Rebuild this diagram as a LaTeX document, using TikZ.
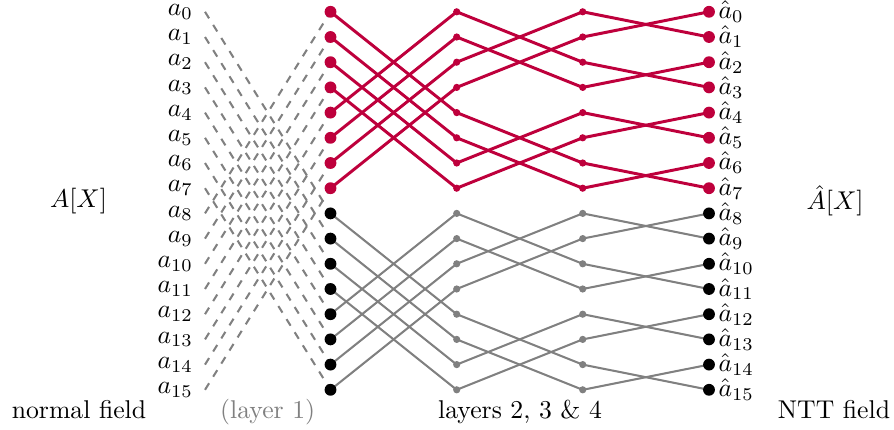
\documentclass[tikz,border=0pt]{standalone}
\usepackage{xcolor}
\definecolor{crim}{RGB}{190,0,60}
\pgfdeclarelayer{wires}
\pgfsetlayers{wires,main}
\tikzset{
  bigdot/.style={circle,inner sep=0pt,minimum size=4.6pt,fill=#1},
  smalldot/.style={circle,inner sep=0pt,minimum size=2.8pt,fill=#1},
  hotwire/.style={draw=crim,line width=1.15pt},
  coldwire/.style={draw=gray,line width=0.8pt},
  shuffle/.style={draw=gray,line width=0.8pt,dashed},
  lbl/.style={inner sep=1pt},
}
\begin{document}
\begin{tikzpicture}[x=0.389pt,y=-0.389pt]
  \useasboundingbox (0,0) rectangle (894,429);

  % inputs, stage outputs and results, one row per coefficient
  \foreach \i in {0,...,15} {
    \pgfmathsetmacro\yy{11.8+25.2*\i}
    \ifnum\i<8 \def\dc{crim}\def\sc{crim}\else\def\dc{black}\def\sc{gray}\fi
    \node[lbl,anchor=east] (a\i) at (196,\yy) {$a_{\i}$};
    \coordinate (s\i) at (205,\yy);
    \node[bigdot=\dc] (p\i) at (330.5,\yy) {};
    \node[smalldot=\sc] (q\i) at (456.7,\yy) {};
    \node[smalldot=\sc] (r\i) at (582.7,\yy) {};
    \node[bigdot=\dc] (t\i) at (709,\yy) {};
    \node[lbl,anchor=west] (h\i) at (t\i.east) {$\hat{a}_{\i}$};
  }

  % butterfly wiring: stage k pairs row i with row i xor 2^(4-k)
  \begin{pgfonlayer}{wires}
    \foreach \i in {0,...,15} {
      \pgfmathtruncatemacro\ja{\i+8-16*mod(floor(\i/8),2)}
      \pgfmathtruncatemacro\jb{\i+4-8*mod(floor(\i/4),2)}
      \pgfmathtruncatemacro\jc{\i+2-4*mod(floor(\i/2),2)}
      \pgfmathtruncatemacro\jd{\i+1-2*mod(\i,2)}
      \ifnum\i<8 \tikzset{wire/.style={hotwire}}\else\tikzset{wire/.style={coldwire}}\fi
      \draw[shuffle] (s\i) -- (p\ja.center);
      \draw[wire] (p\i.center) -- (q\jb.center);
      \draw[wire] (q\i.center) -- (r\jc.center);
      \draw[wire] (r\i.center) -- (t\jd.center);
    }
  \end{pgfonlayer}

  % polynomial names and captions
  \node (A) at (78.5,200.8) {$A[X]$};
  \node (Ahat) at (835,200.8) {$\hat{A}[X]$};
  \node[anchor=base] (c1) at (79,418) {normal field};
  \node[anchor=base,text=gray] (c2) at (267.7,418) {(layer 1)};
  \node[anchor=base] (c3) at (520,418) {layers 2, 3 \& 4};
  \node[anchor=base] (c4) at (834,418) {NTT field};
\end{tikzpicture}
\end{document}
